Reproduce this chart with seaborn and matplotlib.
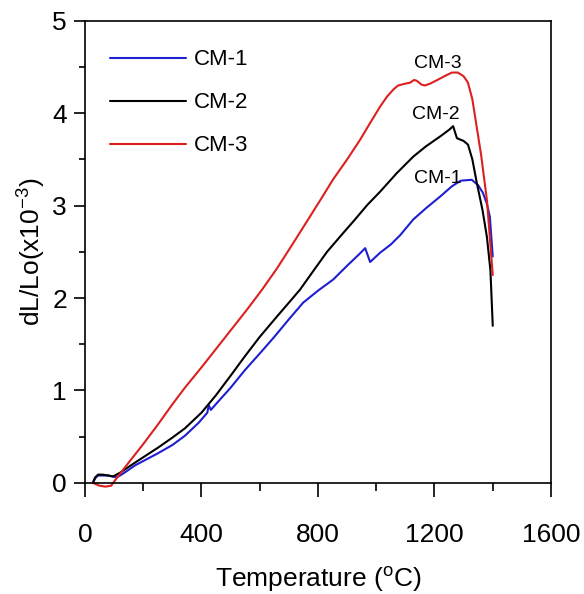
# Dilatometry curves for the three CM samples

# Importing the necessary libraries
import pandas as pd
import matplotlib
matplotlib.use('Agg')
import matplotlib.pyplot as plt
from matplotlib.ticker import MultipleLocator
import seaborn as sns

# Values (temperature in C, dL/Lo in x10^-3)
cm1_temp = [27, 35, 45, 60, 80, 95, 110, 140, 172, 250, 300, 343, 390, 420, 425, 432, 463, 500, 549,
            600, 650, 700, 749, 800, 852, 900, 940, 962, 979, 1013, 1050, 1082, 1127, 1170, 1220,
            1260, 1290, 1328, 1350, 1366, 1380, 1390, 1400]
cm1_dl = [0.0, 0.05, 0.08, 0.08, 0.08, 0.07, 0.06, 0.12, 0.19, 0.32, 0.41, 0.51, 0.65, 0.76, 0.84, 0.79, 0.90, 1.03, 1.22,
          1.40, 1.58, 1.77, 1.95, 2.08, 2.20, 2.35, 2.47, 2.54, 2.39, 2.49, 2.58, 2.68, 2.85, 2.97, 3.10,
          3.21, 3.27, 3.28, 3.22, 3.14, 3.02, 2.88, 2.45]

cm2_temp = [27, 35, 45, 60, 80, 96, 120, 172, 250, 300, 343, 400, 450, 500, 549, 600, 659, 700, 738,
            790, 831, 880, 927, 970, 1013, 1070, 1127, 1170, 1220, 1250, 1264, 1270, 1277, 1300, 1315,
            1330, 1345, 1365, 1380, 1392, 1400]
cm2_dl = [0.0, 0.06, 0.09, 0.09, 0.08, 0.07, 0.11, 0.22, 0.38, 0.49, 0.59, 0.76, 0.95, 1.16, 1.37, 1.58, 1.80, 1.95, 2.09,
          2.32, 2.50, 2.68, 2.85, 3.01, 3.15, 3.35, 3.53, 3.64, 3.75, 3.82, 3.86, 3.80, 3.73, 3.70, 3.66,
          3.50, 3.25, 2.95, 2.66, 2.30, 1.70]

cm3_temp = [27, 50, 70, 90, 113, 150, 200, 250, 300, 343, 400, 450, 505, 560, 610, 659, 710, 766, 810,
            851, 900, 944, 980, 1013, 1037, 1060, 1075, 1100, 1116, 1130, 1140, 1155, 1167, 1185, 1210,
            1240, 1260, 1280, 1300, 1315, 1330, 1345, 1360, 1380, 1400]
cm3_dl = [0.0, -0.03, -0.04, -0.03, 0.07, 0.22, 0.42, 0.63, 0.85, 1.03, 1.25, 1.45, 1.67, 1.89, 2.10, 2.32, 2.57, 2.85, 3.07,
          3.28, 3.50, 3.71, 3.90, 4.07, 4.18, 4.26, 4.30, 4.32, 4.33, 4.36, 4.35, 4.31, 4.30, 4.32, 4.36,
          4.41, 4.44, 4.44, 4.40, 4.33, 4.15, 3.85, 3.55, 3.06, 2.25]

samples = ['CM-1', 'CM-2', 'CM-3']
colors = ['#1e1ed2', '#000000', '#dc2020']

# curve labels placed next to the peaks
label_temp = [1210, 1203, 1213]
label_dl = [3.29, 3.99, 4.54]

# Building one long table for seaborn
frames = []
for name, t, d in zip(samples, [cm1_temp, cm2_temp, cm3_temp], [cm1_dl, cm2_dl, cm3_dl]):
    frames.append(pd.DataFrame({'temp': t, 'dl': d, 'sample': name}))
df = pd.concat(frames, ignore_index=True)

sns.set_style('ticks', {'axes.edgecolor': 'black', 'text.color': 'black',
                        'axes.labelcolor': 'black', 'xtick.color': 'black', 'ytick.color': 'black'})
plt.rcParams['font.family'] = ['Liberation Sans', 'DejaVu Sans']

fig = plt.figure(figsize=(5.84, 5.94), dpi=100)
ax = fig.add_axes([0.1455, 0.187, 0.798, 0.778])

sns.lineplot(data=df, x='temp', y='dl', hue='sample', palette=dict(zip(samples, colors)),
             sort=False, estimator=None, linewidth=1.5, ax=ax)
for ln in ax.lines:
    ln.set_clip_on(False)

# labels on the curves
for name, t, d in zip(samples, label_temp, label_dl):
    ax.text(t, d, name, ha='center', va='center', fontsize=14)

ax.set_xlim(0, 1600)
ax.set_ylim(0, 5)
ax.xaxis.set_major_locator(MultipleLocator(400))
ax.xaxis.set_minor_locator(MultipleLocator(200))
ax.yaxis.set_major_locator(MultipleLocator(1))
ax.yaxis.set_minor_locator(MultipleLocator(0.5))
ax.tick_params(which='major', direction='out', length=8, width=1.2, labelsize=19)
ax.tick_params(which='minor', direction='out', length=4.5, width=1.2)
ax.tick_params(axis='x', which='major', length=10, pad=19)
ax.tick_params(axis='x', which='minor', length=5.5)
ax.tick_params(axis='y', which='major', pad=5)
for s in ax.spines.values():
    s.set_linewidth(1.2)

ax.set_xlabel('Temperature ($^{\\mathregular{o}}$C)', fontsize=19, labelpad=12)
ax.set_ylabel('dL/Lo(x10$^{\\mathregular{-3}}$)', fontsize=19, labelpad=4)

leg = ax.legend(loc='upper left', frameon=False, fontsize=16, handlelength=3.4,
                labelspacing=0.99, handletextpad=0.35, borderpad=0, borderaxespad=0,
                bbox_to_anchor=(0.054, 0.938))
for h in leg.get_lines():
    h.set_linewidth(1.5)

fig.savefig('out.png', dpi=100)
